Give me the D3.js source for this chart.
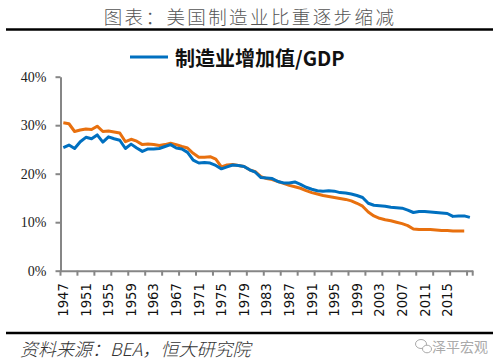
<!DOCTYPE html>
<html><head><meta charset="utf-8">
<script src="https://cdn.jsdelivr.net/npm/d3@7"></script>
<style>body{margin:0;background:#fff}svg{display:block}</style>
</head><body>
<svg id="c" width="504" height="364"></svg>
<script>
const years = d3.range(1947, 2020).map(String);
const labelYears = ["1947","1951","1955","1959","1963","1967","1971","1975","1979","1983","1987","1991","1995","1999","2003","2007","2011","2015"];
const yTicks = [0, 10, 20, 30, 40];
const seriesNames = ["制造业增加值/GDP", ""];
const blueValues = [25.4,25.9,25.2,26.6,27.5,27.2,28.0,26.5,27.6,27.2,26.9,25.2,26.1,25.3,24.6,25.1,25.1,25.2,25.6,26.0,
 25.3,25.1,24.4,22.8,22.2,22.3,22.2,21.7,21.0,21.4,21.8,21.7,21.5,20.8,20.3,19.2,19.1,19.0,18.4,18.1,
 18.1,18.3,17.8,17.2,16.8,16.5,16.4,16.5,16.4,16.1,16.0,15.8,15.5,15.1,13.9,13.5,13.4,13.3,13.1,13.0,
 12.9,12.5,12.0,12.2,12.2,12.1,12.0,11.9,11.8,11.2,11.3,11.3,11.0];
const orangeValues = [30.5,30.3,28.7,29.0,29.2,29.1,29.8,28.7,28.8,28.6,28.4,26.6,27.1,26.7,26.0,26.1,26.0,25.8,26.0,26.3,
 26.0,25.6,25.3,24.2,23.4,23.4,23.5,23.0,21.4,21.8,21.9,21.7,21.5,20.8,20.4,19.4,19.0,18.8,18.4,18.0,
 17.6,17.3,17.0,16.5,16.1,15.8,15.5,15.3,15.1,14.9,14.7,14.4,13.9,13.3,12.1,11.3,10.8,10.5,10.3,10.0,
 9.7,9.3,8.6,8.5,8.5,8.5,8.4,8.3,8.3,8.2,8.2,8.2];

const svg = d3.select("#c");
const pLeft = 60.5, pRight = 472.7, pTop = 76.7, pBottom = 270.7;
const axisColor = "#868686";

const x = d3.scaleBand().domain(years).range([pLeft, pRight]).padding(0);
const y = d3.scaleLinear().domain([0, 40]).range([pBottom, pTop]);

// title
svg.append("text").attr("x", 250).attr("y", 24).attr("text-anchor", "middle")
  .attr("font-family", "Noto Sans CJK SC").attr("font-weight", 300).attr("font-size", 18.5)
  .attr("letter-spacing", 2.4).attr("fill", "#555").text("图表：美国制造业比重逐步缩减");
svg.append("line").attr("x1", 6).attr("x2", 493).attr("y1", 29.5).attr("y2", 29.5)
  .attr("stroke", "#000").attr("stroke-width", 2.5);

// legend
svg.append("line").attr("x1", 130).attr("x2", 168).attr("y1", 57).attr("y2", 57)
  .attr("stroke", "#0070C0").attr("stroke-width", 3);
svg.append("text").attr("x", 175).attr("y", 65.5).attr("font-family", "Noto Sans CJK SC")
  .attr("font-weight", 700).attr("font-size", 20).attr("fill", "#111").text(seriesNames[0]);

// y axis
const yAxis = svg.append("g").attr("transform", `translate(${pLeft},0)`)
  .call(d3.axisLeft(y).tickValues(yTicks).tickSize(5).tickSizeOuter(0).tickPadding(9).tickFormat(d => d + "%"));
yAxis.select(".domain").attr("stroke", axisColor).attr("stroke-width", 2);
yAxis.selectAll(".tick line").attr("stroke", axisColor).attr("stroke-width", 2);
yAxis.selectAll(".tick text").attr("font-family", "Liberation Serif").attr("font-size", 14).attr("fill", "#222");

// x axis
const xAxis = svg.append("g").attr("transform", `translate(0,${pBottom})`)
  .call(d3.axisBottom(x).tickValues([]).tickSizeOuter(0));
xAxis.select(".domain").attr("stroke", axisColor).attr("stroke-width", 2);
const tickYears = years.filter((d, i) => i % 3 === 0);
xAxis.selectAll("line.tk").data(tickYears).join("line").attr("class", "tk")
  .attr("x1", d => x(d)).attr("x2", d => x(d)).attr("y1", 0).attr("y2", 5)
  .attr("stroke", axisColor).attr("stroke-width", 2);
xAxis.append("line").attr("x1", pRight).attr("x2", pRight).attr("y1", 0).attr("y2", 5)
  .attr("stroke", axisColor).attr("stroke-width", 2);
xAxis.selectAll("text.lb").data(labelYears).join("text").attr("class", "lb")
  .attr("transform", d => `translate(${x(d) + x.bandwidth() / 2 + 4.8},12.5) rotate(-90)`)
  .attr("text-anchor", "end").attr("font-family", "DejaVu Sans").attr("font-size", 13.2)
  .attr("fill", "#111").text(d => d);

// lines
const line = d3.line().x((d, i) => x(years[i]) + x.bandwidth() / 2).y(d => y(d));
svg.append("path").datum(orangeValues).attr("d", line).attr("fill", "none")
  .attr("stroke", "#E8700E").attr("stroke-width", 3).attr("stroke-linejoin", "round");
svg.append("path").datum(blueValues).attr("d", line).attr("fill", "none")
  .attr("stroke", "#0070C0").attr("stroke-width", 3).attr("stroke-linejoin", "round");

// bottom
svg.append("line").attr("x1", 6).attr("x2", 493).attr("y1", 333).attr("y2", 333)
  .attr("stroke", "#000").attr("stroke-width", 2.5);
svg.append("text").attr("x", 20).attr("y", 356).attr("font-family", "Noto Sans CJK SC")
  .attr("font-weight", 300).attr("font-style", "italic").attr("font-size", 18)
  .attr("fill", "#333").text("资料来源：BEA，恒大研究院");

// watermark
const wm = svg.append("g").attr("fill", "none").attr("stroke", "#aaa").attr("stroke-width", 1);
wm.append("ellipse").attr("cx", 421).attr("cy", 344).attr("rx", 5.5).attr("ry", 4.5);
wm.append("ellipse").attr("cx", 427).attr("cy", 349).attr("rx", 4.5).attr("ry", 3.8).attr("fill", "#fff");
svg.append("text").attr("x", 432).attr("y", 352).attr("font-family", "Noto Sans CJK SC")
  .attr("font-size", 14).attr("fill", "#aaa").text("泽平宏观");
</script>
</body></html>
